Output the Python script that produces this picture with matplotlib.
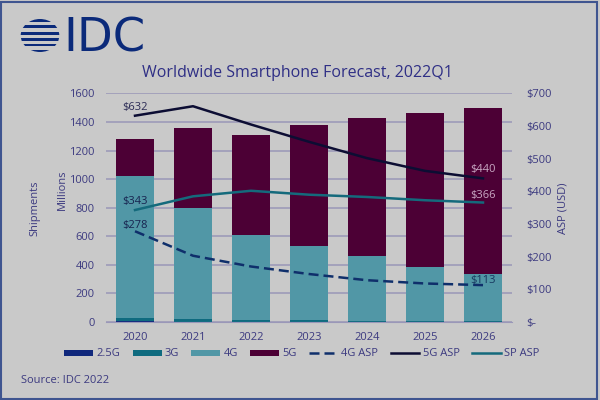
import matplotlib
matplotlib.use("Agg")
import matplotlib.pyplot as plt
import numpy as np
from matplotlib.patches import Ellipse, Rectangle

plt.rcParams["font.family"] = ["Open Sans", "DejaVu Sans"]

YEARS = ["2020", "2021", "2022", "2023", "2024", "2025", "2026"]
SHIP_25G = [4, 3, 2, 2, 2, 1, 1]
SHIP_3G = [24, 17, 14, 10, 7, 5, 4]
SHIP_4G = [997, 780, 594, 520, 453, 378, 331]
SHIP_5G = [255, 560, 700, 848, 963, 1081, 1159]
ASP_4G = [278, 203, 170, 147, 128, 118, 113]
ASP_5G = [632, 661, 605, 552, 502, 463, 440]
ASP_SP = [343, 385, 402, 390, 383, 373, 366]

BG = "#c9c9c9"
BORDER = "#3f5590"
NAVY = "#0b2a7a"
TEXT = "#3c3a80"
GRID = "#9a97b8"
C_25G = "#10287c"
C_3G = "#0f6b7f"
C_4G = "#5197a6"
C_5G = "#4c0035"
C_L4G = "#0f2f6b"
C_L5G = "#0c0d33"
C_LSP = "#146a7c"

fig = plt.figure(figsize=(6, 4), dpi=100, facecolor=BG)
fig.add_artist(Rectangle((0.002, 0.003), 0.9935, 0.992, transform=fig.transFigure,
                         fill=False, edgecolor=BORDER, linewidth=1.5))

ax = fig.add_axes([106 / 600, 78 / 400, 406 / 600, 228.5 / 400])
ax.set_facecolor("none")
x = np.arange(len(YEARS))
bottom = np.zeros(len(YEARS))
for vals, col, name in [(SHIP_25G, C_25G, "2.5G"), (SHIP_3G, C_3G, "3G"),
                        (SHIP_4G, C_4G, "4G"), (SHIP_5G, C_5G, "5G")]:
    ax.bar(x, vals, 0.645, bottom=bottom, color=col, label=name, zorder=2)
    bottom += np.array(vals)

ax.set_xlim(-0.5, 6.5)
ax.set_ylim(0, 1600)
ax.set_yticks(range(0, 1601, 200))
ax.set_xticks(x, YEARS)
ax.grid(axis="y", color=GRID, linewidth=1.1, zorder=0)
ax.set_axisbelow(True)
for s in ["top", "left", "right"]:
    ax.spines[s].set_visible(False)
ax.spines["bottom"].set_color(GRID)
ax.tick_params(length=0, labelsize=8, colors=TEXT)
ax.tick_params(axis="y", pad=8)
ax.tick_params(axis="x", pad=7)

ax2 = ax.twinx()
ax2.set_ylim(0, 700)
ax2.set_yticks(range(0, 701, 100))
ax2.set_yticklabels(["$-"] + [f"${v}" for v in range(100, 701, 100)])
for s in ax2.spines.values():
    s.set_visible(False)
ax2.tick_params(length=0, labelsize=8, colors=TEXT, pad=10)
ax2.plot(x, ASP_4G, color=C_L4G, linewidth=1.8, linestyle=(0, (4, 2)), label="4G ASP", zorder=4)
ax2.plot(x, ASP_5G, color=C_L5G, linewidth=1.8, label="5G ASP", zorder=4)
ax2.plot(x, ASP_SP, color=C_LSP, linewidth=1.8, label="SP ASP", zorder=4)

ax2.text(0, ASP_5G[0] + 8, "$632", ha="center", va="bottom", fontsize=8, color="#2b2b55")
ax2.text(0, ASP_SP[0] + 8, "$343", ha="center", va="bottom", fontsize=8, color="#17234f")
ax2.text(0, ASP_4G[0] + 2, "$278", ha="center", va="bottom", fontsize=8, color="#17234f")
ax2.text(6, ASP_5G[6] + 11, "$440", ha="center", va="bottom", fontsize=8, color="#c9a9c4")
ax2.text(6, ASP_SP[6] + 5, "$366", ha="center", va="bottom", fontsize=8, color="#c9a9c4")
ax2.text(6, ASP_4G[6] - 2, "$113", ha="center", va="bottom", fontsize=8, color="#17385f")

h1, l1 = ax.get_legend_handles_labels()
h2, l2 = ax2.get_legend_handles_labels()
fig.legend(h1 + h2, l1 + l2, ncol=7, frameon=False, loc="center", bbox_to_anchor=(302 / 600, 46 / 400),
           fontsize=8, labelcolor=TEXT, handlelength=2.6, handleheight=0.45, handletextpad=0.3, columnspacing=1.1)

fig.text(142 / 600, 1 - 73 / 400, "Worldwide Smartphone Forecast, 2022Q1", fontsize=11.5, color="#2f2f85",
         ha="left", va="center")
fig.text(21 / 600, 19.5 / 400, "Source: IDC 2022", fontsize=8, color=TEXT, ha="left", va="center")
fig.text(35 / 600, 1 - 208 / 400, "Shipments", fontsize=8, color=TEXT, rotation=90, ha="center", va="center")
fig.text(62 / 600, 1 - 190 / 400, "Millions", fontsize=8, color=TEXT, rotation=90, ha="center", va="center")
fig.text(563 / 600, 1 - 208 / 400, "ASP (USD)", fontsize=8, color=TEXT, rotation=90, ha="center", va="center")

# logo
logo = fig.add_axes([0, 0, 1, 1], facecolor="none")
logo.set_xlim(0, 600)
logo.set_ylim(400, 0)
logo.axis("off")
clip = Ellipse((40, 35.5), 38.6, 33, transform=logo.transData)
for yy, hh in zip([19, 25, 31.5, 37.5, 43.5, 49.5], [2.5, 2.5, 3.5, 3.5, 2.5, 2.5]):
    r = Rectangle((20, yy), 40, hh, facecolor=NAVY, edgecolor="none")
    logo.add_patch(r)
    r.set_clip_path(clip)
fig.text(63 / 600, 1 - 52 / 400, "IDC", fontsize=33.5, color=NAVY, family="DejaVu Sans", ha="left", va="baseline")

fig.savefig("out.png", dpi=100, facecolor=BG)
